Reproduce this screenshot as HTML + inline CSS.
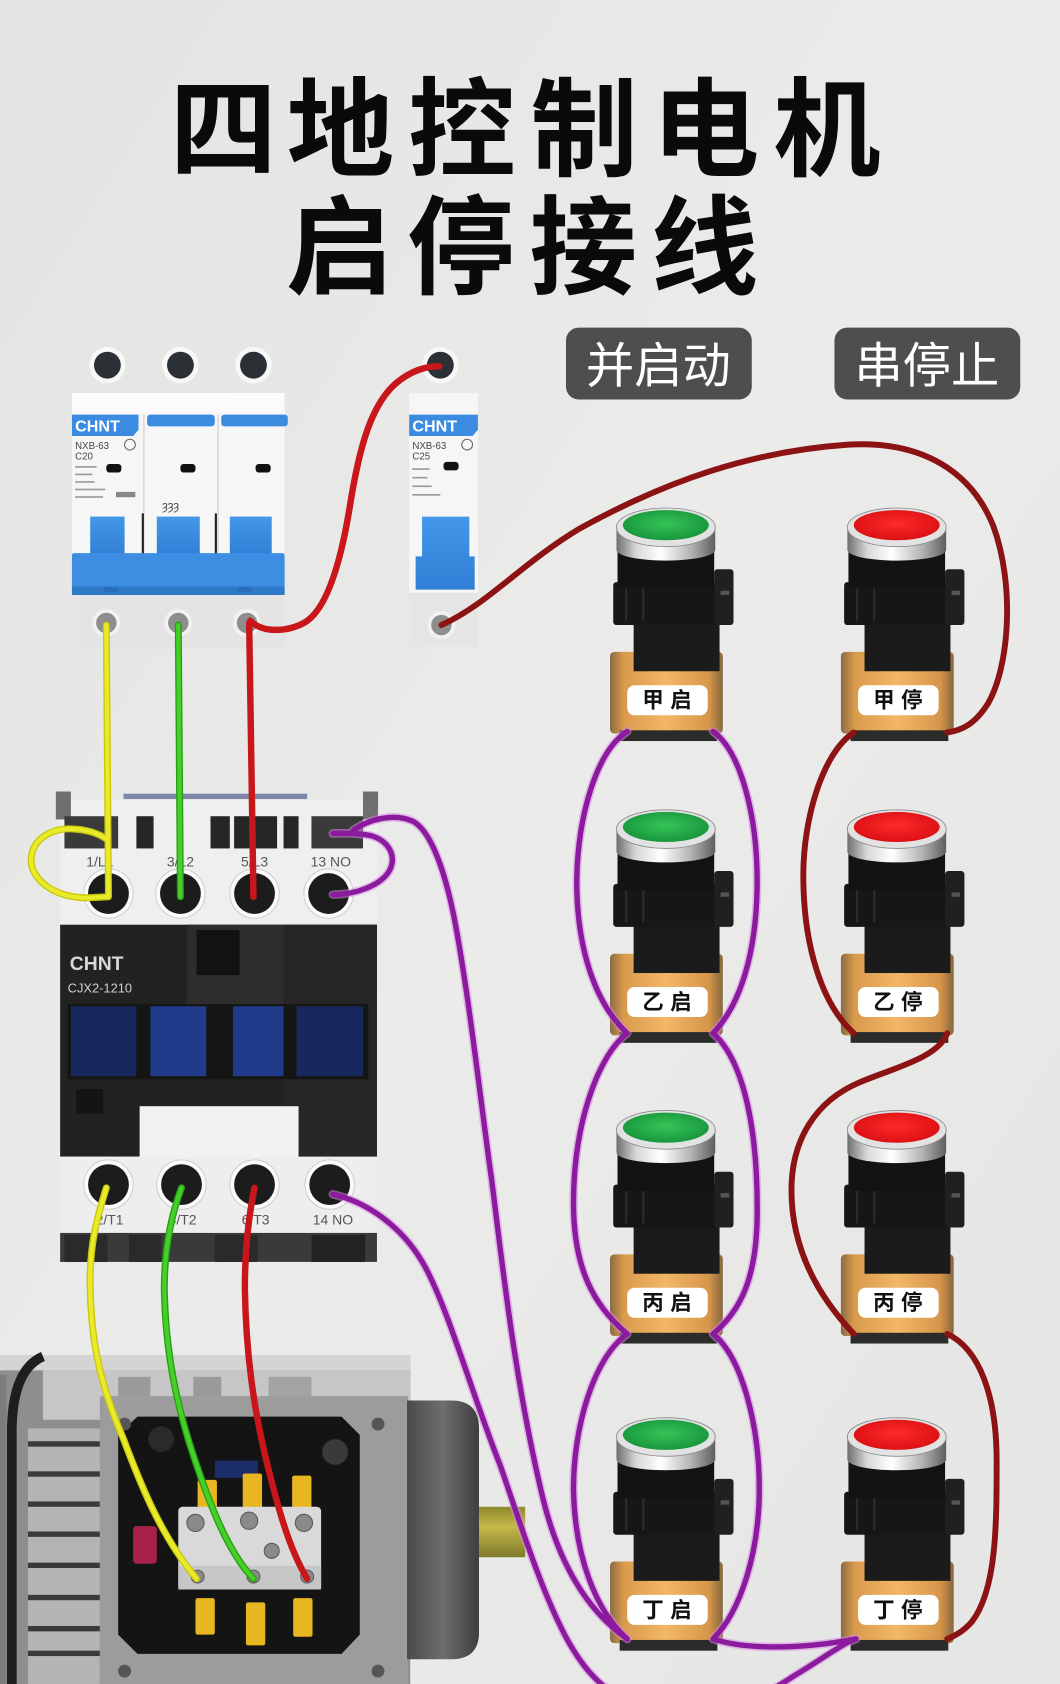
<!DOCTYPE html>
<html><head><meta charset="utf-8">
<style>
html,body{margin:0;padding:0;background:#e8e8e7;}
svg{display:block;}
</style></head><body>
<svg width="1060" height="1684" viewBox="0 0 987 1568" xmlns="http://www.w3.org/2000/svg">
<defs>
 <linearGradient id="bg" x1="0" y1="0" x2="1" y2="1">
  <stop offset="0" stop-color="#e3e3e2"/><stop offset="0.5" stop-color="#ebebea"/><stop offset="1" stop-color="#e5e5e4"/>
 </linearGradient>
 <linearGradient id="orange" x1="0" x2="1" y1="0" y2="0">
  <stop offset="0" stop-color="#8a6a45"/><stop offset="0.12" stop-color="#d99a4c"/><stop offset="0.5" stop-color="#f2b767"/><stop offset="0.88" stop-color="#d6964a"/><stop offset="1" stop-color="#85663f"/>
 </linearGradient>
 <linearGradient id="chrome" x1="0" x2="1" y1="0" y2="0">
  <stop offset="0" stop-color="#6e6e6e"/><stop offset="0.2" stop-color="#d8d8d8"/><stop offset="0.45" stop-color="#ffffff"/><stop offset="0.75" stop-color="#b5b5b5"/><stop offset="1" stop-color="#5e5e5e"/>
 </linearGradient>
 <radialGradient id="gcap" cx="0.5" cy="0.45" r="0.6">
  <stop offset="0" stop-color="#35c457"/><stop offset="1" stop-color="#16923a"/>
 </radialGradient>
 <radialGradient id="rcap" cx="0.5" cy="0.45" r="0.6">
  <stop offset="0" stop-color="#ff2a2a"/><stop offset="1" stop-color="#d80e12"/>
 </radialGradient>
 <linearGradient id="blue" x1="0" x2="0" y1="0" y2="1">
  <stop offset="0" stop-color="#4597e8"/><stop offset="1" stop-color="#2f7fd6"/>
 </linearGradient>
 <linearGradient id="shaft" x1="0" x2="0" y1="0" y2="1">
  <stop offset="0" stop-color="#8f8a30"/><stop offset="0.4" stop-color="#c4b848"/><stop offset="1" stop-color="#7f7a2a"/>
 </linearGradient>
 <linearGradient id="cap2" x1="0" x2="1" y1="0" y2="0">
  <stop offset="0" stop-color="#4a4a4a"/><stop offset="0.5" stop-color="#6e6e6e"/><stop offset="1" stop-color="#3e3e3e"/>
 </linearGradient>
 <g id="btn">
  <rect x="-53" y="-45" width="105" height="76" rx="4" fill="url(#orange)"/>
  <rect x="-44" y="28" width="91" height="10" fill="#2b2b2b"/>
  <rect x="-31" y="-75" width="80" height="48" fill="#1b1b1b"/>
  <rect x="-50" y="-110" width="97" height="40" rx="3" fill="#161616"/>
  <line x1="-38" y1="-108" x2="-38" y2="-74" stroke="#2c2c2c" stroke-width="2"/>
  <line x1="-22" y1="-108" x2="-22" y2="-74" stroke="#2c2c2c" stroke-width="2"/>
  <rect x="44" y="-122" width="18" height="52" rx="3" fill="#202020"/>
  <rect x="50" y="-102" width="8" height="4" fill="#555"/>
  <rect x="-46" y="-140" width="90" height="36" fill="#131313"/>
  <path d="M-47,-161 L-47,-140 A46,10 0 0 0 45,-140 L45,-161 Z" fill="url(#chrome)"/>
  <ellipse cx="-1" cy="-161" rx="46" ry="18" fill="#e2e2e2" stroke="#8a8a8a" stroke-width="0.8"/>
 </g>
</defs>

<rect x="0" y="0" width="987" height="1568" fill="url(#bg)"/>

<!-- Title -->
<text x="158 267 380 494 607 720" y="156" font-family="'Noto Sans CJK SC','WenQuanYi Zen Hei',sans-serif" font-size="100" font-weight="700" fill="#0a0a0a">四地控制电机</text>
<text x="266 379 493 606" y="266" font-family="'Noto Sans CJK SC','WenQuanYi Zen Hei',sans-serif" font-size="100" font-weight="700" fill="#0a0a0a">启停接线</text>

<!-- Badges -->
<rect x="527" y="305" width="173" height="67" rx="12" fill="#4e4e4e"/>
<text x="613" y="356" font-family="'Liberation Sans','Noto Sans CJK SC',sans-serif" font-size="45" fill="#ffffff" text-anchor="middle">并启动</text>
<rect x="777" y="305" width="173" height="67" rx="12" fill="#4e4e4e"/>
<text x="863" y="356" font-family="'Liberation Sans','Noto Sans CJK SC',sans-serif" font-size="45" fill="#ffffff" text-anchor="middle">串停止</text>

<!-- 3-pole breaker -->
<g>
 <circle cx="100" cy="340" r="17" fill="#f7f7f7"/><circle cx="100" cy="340" r="12.5" fill="#2b3035"/>
 <circle cx="168" cy="340" r="17" fill="#f7f7f7"/><circle cx="168" cy="340" r="12.5" fill="#2b3035"/>
 <circle cx="236" cy="340" r="17" fill="#f7f7f7"/><circle cx="236" cy="340" r="12.5" fill="#2b3035"/>
 <rect x="67" y="366" width="198" height="152" fill="#f6f6f6"/>
 <rect x="67" y="366" width="198" height="18" fill="#fbfbfb"/>
 <line x1="134" y1="386" x2="134" y2="518" stroke="#d2d2d2" stroke-width="1.2"/>
 <line x1="203" y1="386" x2="203" y2="518" stroke="#d2d2d2" stroke-width="1.2"/>
 <path d="M67,386 H129 V400 L124,406 H67 Z" fill="#3b8be0"/>
 <text x="70" y="402" font-family="'Liberation Sans',sans-serif" font-size="15" font-weight="700" fill="#ffffff">CHNT</text>
 <rect x="137" y="386" width="63" height="11" rx="3" fill="#3b8be0"/>
 <rect x="206" y="386" width="62" height="11" rx="3" fill="#3b8be0"/>
 <text x="70" y="418" font-family="'Liberation Sans',sans-serif" font-size="9" fill="#444">NXB-63</text>
 <text x="70" y="428" font-family="'Liberation Sans',sans-serif" font-size="9" fill="#444">C20</text>
 <circle cx="121" cy="414" r="5" fill="none" stroke="#666" stroke-width="1"/>
 <rect x="70" y="434" width="20" height="1.5" fill="#999"/><rect x="70" y="441" width="16" height="1.5" fill="#999"/>
 <rect x="70" y="448" width="18" height="1.5" fill="#999"/><rect x="70" y="455" width="28" height="1.5" fill="#999"/>
 <rect x="70" y="462" width="26" height="1.5" fill="#999"/><rect x="108" y="458" width="18" height="5" fill="#888"/>
 <rect x="99" y="432" width="14" height="8" rx="3" fill="#111"/>
 <rect x="168" y="432" width="14" height="8" rx="3" fill="#111"/>
 <rect x="238" y="432" width="14" height="8" rx="3" fill="#111"/>
 <text x="151" y="475" font-family="'Liberation Sans',sans-serif" font-size="12" fill="#555">ȝȝȝ</text>
 <rect x="84" y="481" width="32" height="37" fill="url(#blue)"/>
 <rect x="146" y="481" width="40" height="37" fill="url(#blue)"/>
 <rect x="214" y="481" width="39" height="37" fill="url(#blue)"/>
 <line x1="133" y1="478" x2="133" y2="517" stroke="#222" stroke-width="2"/>
 <line x1="201" y1="478" x2="201" y2="517" stroke="#222" stroke-width="2"/>
 <rect x="67" y="515" width="198" height="39" rx="2" fill="#3d8ee3"/>
 <rect x="67" y="546" width="198" height="8" fill="#2f79c9"/>
 <rect x="96" y="547" width="14" height="4" rx="2" fill="#2a6cb5"/>
 <rect x="221" y="547" width="14" height="4" rx="2" fill="#2a6cb5"/>
 <rect x="75" y="554" width="190" height="50" fill="#e4e4e4"/>
 <circle cx="99" cy="580" r="13" fill="#f2f2f2"/><circle cx="99" cy="580" r="9.5" fill="#8e8e8e"/>
 <circle cx="166" cy="580" r="13" fill="#f2f2f2"/><circle cx="166" cy="580" r="9.5" fill="#8e8e8e"/>
 <circle cx="230" cy="580" r="13" fill="#f2f2f2"/><circle cx="230" cy="580" r="9.5" fill="#8e8e8e"/>
</g>

<!-- single breaker -->
<g>
 <circle cx="410" cy="340" r="17" fill="#f7f7f7"/><circle cx="410" cy="340" r="12.5" fill="#2b3035"/>
 <rect x="381" y="366" width="64" height="186" fill="#f6f6f6"/>
 <rect x="381" y="552" width="64" height="50" fill="#e5e5e5"/>
 <path d="M381,386 H445 V400 L440,406 H381 Z" fill="#3b8be0"/>
 <text x="384" y="402" font-family="'Liberation Sans',sans-serif" font-size="15" font-weight="700" fill="#ffffff">CHNT</text>
 <text x="384" y="418" font-family="'Liberation Sans',sans-serif" font-size="9" fill="#444">NXB-63</text>
 <text x="384" y="428" font-family="'Liberation Sans',sans-serif" font-size="9" fill="#444">C25</text>
 <circle cx="435" cy="414" r="5" fill="none" stroke="#666" stroke-width="1"/>
 <rect x="384" y="436" width="16" height="1.5" fill="#999"/><rect x="384" y="444" width="14" height="1.5" fill="#999"/>
 <rect x="384" y="452" width="18" height="1.5" fill="#999"/><rect x="384" y="460" width="26" height="1.5" fill="#999"/>
 <rect x="413" y="430" width="14" height="8" rx="3" fill="#111"/>
 <path d="M393,481 H437 V518 H442 V549 H387 V518 H393 Z" fill="url(#blue)"/>
 <circle cx="411" cy="582" r="13" fill="#f2f2f2"/><circle cx="411" cy="582" r="9.5" fill="#8e8e8e"/>
</g>

<!-- contactor -->
<g>
 <rect x="56" y="745" width="295" height="118" fill="#efefef"/>
 <rect x="115" y="739" width="171" height="5" fill="#7d88a8"/>
 <rect x="52" y="737" width="14" height="26" fill="#6f6f6f"/>
 <rect x="338" y="737" width="14" height="26" fill="#6f6f6f"/>
 <rect x="60" y="760" width="50" height="30" fill="#3a3a3a"/>
 <rect x="127" y="760" width="16" height="30" fill="#262626"/>
 <rect x="196" y="760" width="18" height="30" fill="#262626"/>
 <rect x="218" y="760" width="40" height="30" fill="#262626"/>
 <rect x="264" y="760" width="14" height="30" fill="#262626"/>
 <rect x="290" y="760" width="48" height="30" fill="#3a3a3a"/>
 <g font-family="'Liberation Sans',sans-serif" font-size="13" fill="#555" text-anchor="middle">
  <text x="93" y="807">1/L1</text><text x="168" y="807">3/L2</text><text x="237" y="807">5/L3</text><text x="308" y="807">13 NO</text>
 </g>
 <g fill="#fafafa" stroke="#cfcfcf" stroke-width="1">
  <circle cx="101" cy="832" r="23"/><circle cx="168" cy="832" r="23"/><circle cx="237" cy="832" r="23"/><circle cx="306" cy="832" r="23"/>
 </g>
 <g fill="#1c1c1c">
  <circle cx="101" cy="832" r="19"/><circle cx="168" cy="832" r="19"/><circle cx="237" cy="832" r="19"/><circle cx="306" cy="832" r="19"/>
 </g>
 <rect x="56" y="861" width="295" height="216" fill="#222"/>
 <rect x="174" y="861" width="90" height="74" fill="#2d2d2d"/>
 <rect x="264" y="861" width="87" height="216" fill="#262626"/>
 <rect x="183" y="866" width="40" height="42" fill="#121212"/>
 <text x="65" y="903" font-family="'Liberation Sans',sans-serif" font-size="18" font-weight="700" fill="#d8d8d8">CHNT</text>
 <text x="63" y="924" font-family="'Liberation Sans',sans-serif" font-size="12" fill="#cfcfcf">CJX2-1210</text>
 <rect x="63" y="935" width="280" height="70" fill="#151515"/>
 <rect x="66" y="937" width="61" height="65" fill="#18285c"/>
 <rect x="140" y="937" width="52" height="65" fill="#1f3b8a"/>
 <rect x="217" y="937" width="47" height="65" fill="#1f3b8a"/>
 <rect x="276" y="937" width="62" height="65" fill="#18285c"/>
 <rect x="71" y="1014" width="25" height="23" fill="#141414"/>
 <rect x="130" y="1030" width="148" height="51" fill="#f2f2f2"/>
 <rect x="56" y="1077" width="295" height="71" fill="#eeeeee"/>
 <g fill="#fafafa" stroke="#cfcfcf" stroke-width="1">
  <circle cx="101" cy="1103" r="23"/><circle cx="169" cy="1103" r="23"/><circle cx="237" cy="1103" r="23"/><circle cx="307" cy="1103" r="23"/>
 </g>
 <g fill="#1c1c1c">
  <circle cx="101" cy="1103" r="19"/><circle cx="169" cy="1103" r="19"/><circle cx="237" cy="1103" r="19"/><circle cx="307" cy="1103" r="19"/>
 </g>
 <g font-family="'Liberation Sans',sans-serif" font-size="13" fill="#555" text-anchor="middle">
  <text x="102" y="1140">2/T1</text><text x="170" y="1140">4/T2</text><text x="238" y="1140">6/T3</text><text x="310" y="1140">14 NO</text>
 </g>
 <rect x="56" y="1148" width="295" height="27" fill="#3a3a3a"/>
 <rect x="60" y="1150" width="40" height="25" fill="#2a2a2a"/>
 <rect x="120" y="1150" width="30" height="25" fill="#2a2a2a"/>
 <rect x="200" y="1150" width="40" height="25" fill="#2a2a2a"/>
 <rect x="290" y="1150" width="50" height="25" fill="#232323"/>
</g>

<!-- motor -->
<g>
 <rect x="0" y="1262" width="382" height="306" fill="#8e8e8e"/>
 <rect x="0" y="1262" width="382" height="14" fill="#d4d4d4"/>
 <rect x="40" y="1276" width="342" height="46" fill="#c6c6c6"/>
 <rect x="110" y="1282" width="30" height="18" fill="#9a9a9a"/>
 <rect x="180" y="1282" width="26" height="18" fill="#9a9a9a"/>
 <rect x="250" y="1282" width="40" height="18" fill="#a3a3a3"/>
 <path d="M40,1263 Q12,1275 11,1330 L11,1568" stroke="#1e1e1e" stroke-width="9" fill="none"/>
 <rect x="0" y="1280" width="6" height="288" fill="#7c7c7c"/>
 <rect x="26" y="1330" width="67" height="238" fill="#b4b4b4"/>
 <g fill="#3a3a3a">
  <rect x="26" y="1342" width="67" height="5"/><rect x="26" y="1370" width="67" height="5"/>
  <rect x="26" y="1398" width="67" height="5"/><rect x="26" y="1426" width="67" height="5"/>
  <rect x="26" y="1455" width="67" height="5"/><rect x="26" y="1485" width="67" height="5"/>
  <rect x="26" y="1514" width="67" height="5"/><rect x="26" y="1537" width="67" height="5"/>
 </g>
 <rect x="93" y="1300" width="287" height="268" fill="#9c9c9c"/>
 <path d="M128,1319 H318 L335,1336 V1522 L318,1540 H128 L110,1522 V1336 Z" fill="#141414"/>
 <circle cx="116" cy="1326" r="6" fill="#555"/><circle cx="352" cy="1326" r="6" fill="#555"/>
 <circle cx="352" cy="1556" r="6" fill="#555"/><circle cx="116" cy="1556" r="6" fill="#555"/>
 <circle cx="150" cy="1340" r="12" fill="#2a2a2a"/>
 <circle cx="312" cy="1352" r="12" fill="#3a3a3a"/>
 <rect x="124" y="1421" width="22" height="35" rx="3" fill="#a8224a"/>
 <rect x="200" y="1360" width="40" height="16" fill="#1c2e6a"/>
 <g fill="#e8b620">
  <rect x="184" y="1378" width="18" height="30" rx="2"/>
  <rect x="226" y="1372" width="18" height="36" rx="2"/>
  <rect x="272" y="1374" width="18" height="34" rx="2"/>
  <rect x="182" y="1488" width="18" height="34" rx="2"/>
  <rect x="229" y="1492" width="18" height="40" rx="2"/>
  <rect x="273" y="1488" width="18" height="36" rx="2"/>
 </g>
 <rect x="166" y="1403" width="133" height="77" rx="4" fill="#d9d9d9"/>
 <rect x="166" y="1458" width="133" height="22" fill="#c6c6c6"/>
 <g fill="#8a8a8a" stroke="#5a5a5a" stroke-width="1">
  <circle cx="182" cy="1418" r="8"/><circle cx="232" cy="1416" r="8"/><circle cx="283" cy="1418" r="8"/>
  <circle cx="253" cy="1444" r="7"/>
  <circle cx="184" cy="1468" r="6"/><circle cx="236" cy="1468" r="6"/><circle cx="286" cy="1468" r="6"/>
 </g>
 <path d="M379,1304 H420 Q446,1304 446,1330 V1520 Q446,1545 420,1545 H379 Z" fill="url(#cap2)"/>
 <rect x="446" y="1403" width="43" height="47" fill="url(#shaft)"/>
</g>

<!-- buttons -->
<g>
 <use href="#btn" transform="translate(621,652)"/>
 <use href="#btn" transform="translate(621,933)"/>
 <use href="#btn" transform="translate(621,1213)"/>
 <use href="#btn" transform="translate(621,1499)"/>
 <use href="#btn" transform="translate(836,652)"/>
 <use href="#btn" transform="translate(836,933)"/>
 <use href="#btn" transform="translate(836,1213)"/>
 <use href="#btn" transform="translate(836,1499)"/>
 <g fill="url(#gcap)">
  <ellipse cx="620" cy="489" rx="40" ry="14"/><ellipse cx="620" cy="770" rx="40" ry="14"/>
  <ellipse cx="620" cy="1050" rx="40" ry="14"/><ellipse cx="620" cy="1336" rx="40" ry="14"/>
 </g>
 <g fill="url(#rcap)">
  <ellipse cx="835" cy="489" rx="40" ry="14"/><ellipse cx="835" cy="770" rx="40" ry="14"/>
  <ellipse cx="835" cy="1050" rx="40" ry="14"/><ellipse cx="835" cy="1336" rx="40" ry="14"/>
 </g>
 <g fill="#ffffff">
  <rect x="584" y="638" width="75" height="28" rx="7"/><rect x="584" y="919" width="75" height="28" rx="7"/>
  <rect x="584" y="1199" width="75" height="28" rx="7"/><rect x="584" y="1485" width="75" height="28" rx="7"/>
  <rect x="799" y="638" width="75" height="28" rx="7"/><rect x="799" y="919" width="75" height="28" rx="7"/>
  <rect x="799" y="1199" width="75" height="28" rx="7"/><rect x="799" y="1485" width="75" height="28" rx="7"/>
 </g>
 <g font-family="'Liberation Sans','Noto Sans CJK SC',sans-serif" font-size="20" font-weight="700" fill="#111" text-anchor="middle" letter-spacing="6">
  <text x="624" y="659">甲启</text><text x="624" y="940">乙启</text>
  <text x="624" y="1220">丙启</text><text x="624" y="1506">丁启</text>
  <text x="839" y="659">甲停</text><text x="839" y="940">乙停</text>
  <text x="839" y="1220">丙停</text><text x="839" y="1506">丁停</text>
 </g>
</g>

<!-- wires -->
<g fill="none" stroke-linecap="round" stroke-linejoin="round">
 <!-- yellow -->
 <g stroke="#c9c70e" stroke-width="6.5">
  <path d="M99,582 L101,835 L80,836 C45,835 28,815 29,800 C30,780 50,770 70,772 C85,773 95,778 100,782"/>
  <path d="M99,1106 C90,1135 83,1160 84,1200 C85,1260 98,1300 115,1340 C132,1385 150,1430 183,1470"/>
 </g>
 <g stroke="#e9ea2a" stroke-width="4">
  <path d="M99,582 L101,835 L80,836 C45,835 28,815 29,800 C30,780 50,770 70,772 C85,773 95,778 100,782"/>
  <path d="M99,1106 C90,1135 83,1160 84,1200 C85,1260 98,1300 115,1340 C132,1385 150,1430 183,1470"/>
 </g>
 <!-- green -->
 <g stroke="#2a9c18" stroke-width="6.5">
  <path d="M166,582 L168,835"/>
  <path d="M169,1106 C160,1130 153,1160 153,1200 C154,1260 165,1310 180,1355 C195,1400 212,1445 236,1470"/>
 </g>
 <g stroke="#45d028" stroke-width="4">
  <path d="M166,582 L168,835"/>
  <path d="M169,1106 C160,1130 153,1160 153,1200 C154,1260 165,1310 180,1355 C195,1400 212,1445 236,1470"/>
 </g>
 <!-- red -->
 <g stroke="#c8161b" stroke-width="6">
  <path d="M232,580 L236,835"/>
  <path d="M233,578 C245,590 268,588 283,580 C305,568 318,520 326,470 C334,420 345,375 371,355 C385,344 398,341 409,341"/>
  <path d="M237,1106 C232,1130 228,1160 228,1200 C229,1260 236,1310 248,1360 C258,1400 268,1440 286,1470"/>
 </g>
 <!-- dark red stop chain -->
 <g stroke="#8c1313" stroke-width="5.5">
  <path d="M411,582 C455,562 485,525 540,492 C620,448 700,420 790,414 C860,410 905,440 925,490 C945,545 940,620 920,655 C908,674 896,680 882,682"/>
  <path d="M795,682 C767,700 748,760 748,815 C748,880 765,935 795,962"/>
  <path d="M882,962 C874,985 830,995 800,1008 C760,1025 738,1060 737,1105 C736,1160 760,1205 795,1242"/>
  <path d="M882,1242 C912,1256 928,1300 928,1360 C928,1420 928,1480 905,1510 C898,1518 890,1523 882,1526"/>
 </g>
 <!-- purple glow -->
 <g stroke="#d58ee0" stroke-width="8" opacity="0.55">
  <path d="M310,833 C330,833 355,825 363,810 C370,795 360,782 345,778 C330,775 318,776 310,776"/>
  <path d="M329,773 C345,762 368,757 385,765 C402,775 414,812 422,850 C436,920 448,1030 458,1100 C468,1180 480,1290 506,1397 C518,1445 540,1495 584,1526"/>
  <path d="M310,1112 C345,1120 375,1145 392,1173 C415,1210 440,1300 466,1365 C485,1420 505,1485 530,1530 C545,1555 565,1585 620,1595 C670,1602 710,1580 740,1560 C765,1545 785,1530 797,1526"/>
  <path d="M584,681 C555,700 538,760 537,820 C537,885 555,935 584,962"/>
  <path d="M664,681 C690,700 705,760 705,820 C705,885 690,935 664,962"/>
  <path d="M584,962 C555,985 534,1050 534,1120 C534,1180 552,1215 584,1242"/>
  <path d="M664,962 C695,990 706,1060 705,1134 C704,1190 690,1220 664,1242"/>
  <path d="M584,1242 C552,1265 534,1330 534,1386 C535,1450 555,1500 584,1526"/>
  <path d="M664,1242 C692,1265 707,1330 707,1386 C707,1445 690,1500 664,1526"/>
  <path d="M664,1526 C690,1535 740,1537 797,1526"/>
 </g>
 <g stroke="#8c1a9e" stroke-width="5">
  <path d="M310,833 C330,833 355,825 363,810 C370,795 360,782 345,778 C330,775 318,776 310,776"/>
  <path d="M329,773 C345,762 368,757 385,765 C402,775 414,812 422,850 C436,920 448,1030 458,1100 C468,1180 480,1290 506,1397 C518,1445 540,1495 584,1526"/>
  <path d="M310,1112 C345,1120 375,1145 392,1173 C415,1210 440,1300 466,1365 C485,1420 505,1485 530,1530 C545,1555 565,1585 620,1595 C670,1602 710,1580 740,1560 C765,1545 785,1530 797,1526"/>
  <path d="M584,681 C555,700 538,760 537,820 C537,885 555,935 584,962"/>
  <path d="M664,681 C690,700 705,760 705,820 C705,885 690,935 664,962"/>
  <path d="M584,962 C555,985 534,1050 534,1120 C534,1180 552,1215 584,1242"/>
  <path d="M664,962 C695,990 706,1060 705,1134 C704,1190 690,1220 664,1242"/>
  <path d="M584,1242 C552,1265 534,1330 534,1386 C535,1450 555,1500 584,1526"/>
  <path d="M664,1242 C692,1265 707,1330 707,1386 C707,1445 690,1500 664,1526"/>
  <path d="M664,1526 C690,1535 740,1537 797,1526"/>
 </g>
</g>
</svg>
</body></html>
